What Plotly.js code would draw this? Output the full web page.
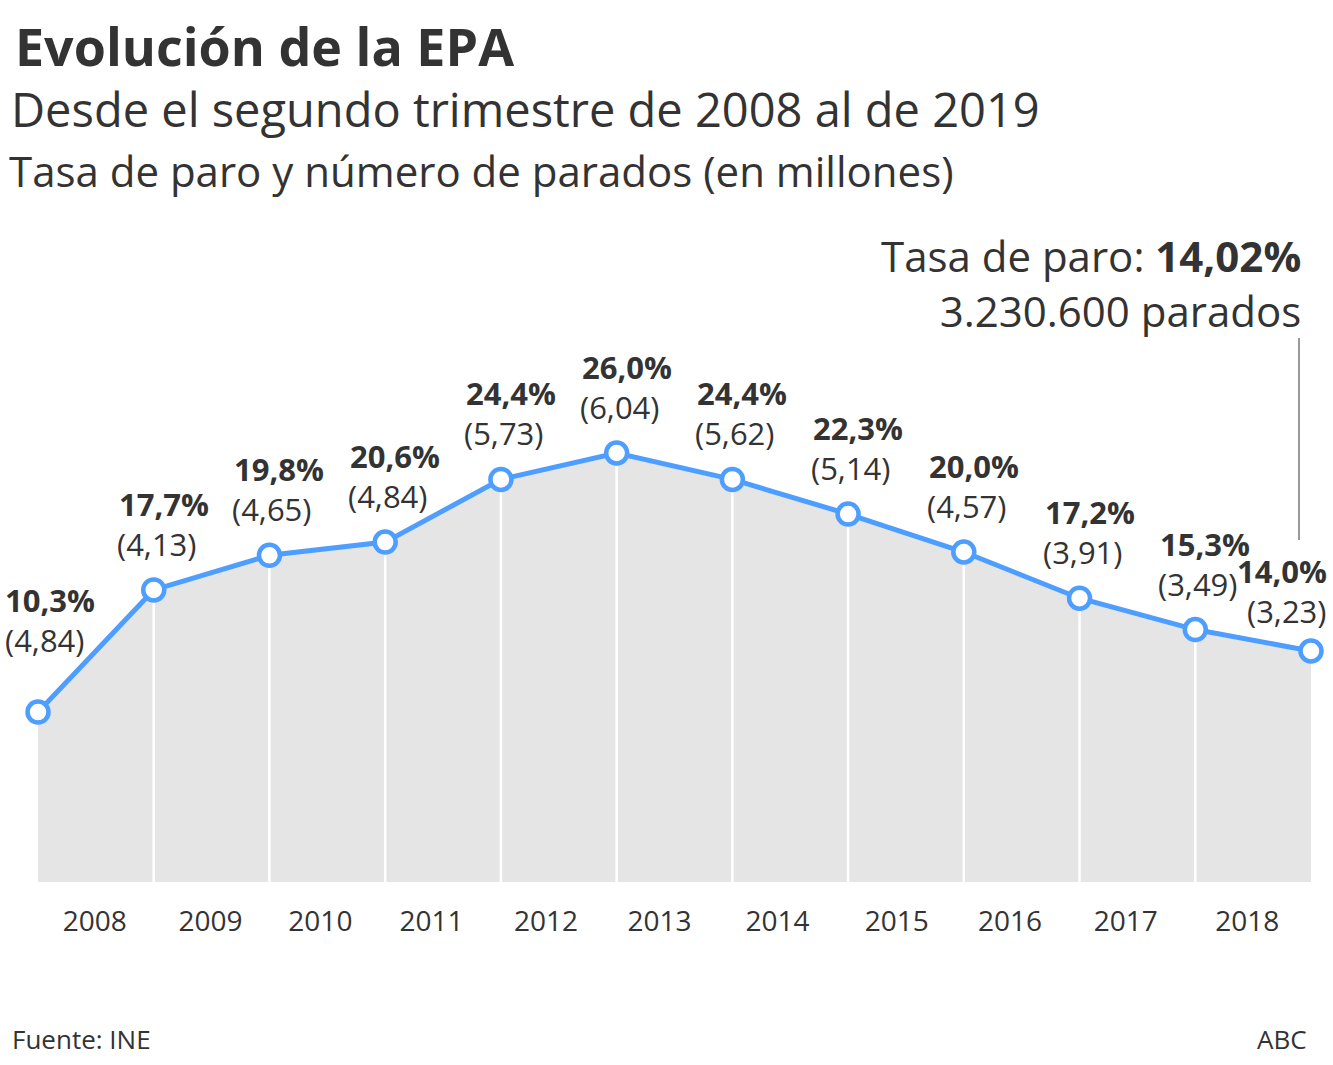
<!DOCTYPE html>
<html>
<head>
<meta charset="utf-8">
<script src="https://cdn.plot.ly/plotly-3.0.1.min.js"></script>
<style>
html,body{margin:0;padding:0;background:#fff;}
#chart{width:1333px;height:1065px;}
</style>
</head>
<body>
<div id="chart"></div>
<script>
// ---- data ----
const periods = ["2T 2008","2T 2009","2T 2010","2T 2011","2T 2012","2T 2013","2T 2014","2T 2015","2T 2016","2T 2017","2T 2018","2T 2019"];
const tasaParo = [10.3, 17.7, 19.8, 20.6, 24.4, 26.0, 24.4, 22.3, 20.0, 17.2, 15.3, 14.0];
const parados = [4.84, 4.13, 4.65, 4.84, 5.73, 6.04, 5.62, 5.14, 4.57, 3.91, 3.49, 3.23];
const yearLabels = ["2008","2009","2010","2011","2012","2013","2014","2015","2016","2017","2018"];

// ---- layout constants ----
const W = 1333, H = 1065;
const ML = 38, MR = 22, MT = 330, MB = 183;
const plotW = W - ML - MR, plotH = H - MT - MB;
const font = "Open Sans, sans-serif";
const ink = "#333333";
const blue = "#4d9eff";
const px2x = p => (p - ML) / plotW;
const px2y = p => (H - MB - p) / plotH;

const idx = periods.map((_, i) => i);
const tickPos = [0.49, 1.49, 2.44, 3.40, 4.39, 5.37, 6.39, 7.42, 8.40, 9.40, 10.45];
const fmt = (v, d) => v.toFixed(d).replace(".", ",");

// vertical white separators
const sepX = [], sepY = [];
idx.forEach(i => {
  if (i === 0 || i === idx.length - 1) return;
  sepX.push(i, i, null);
  sepY.push(0, tasaParo[i], null);
});

const traces = [
  {x: idx, y: tasaParo, type: "scatter", mode: "lines", fill: "tozeroy",
   fillcolor: "#e5e5e5", line: {width: 0}, hoverinfo: "skip", showlegend: false},
  {x: sepX, y: sepY, type: "scatter", mode: "lines",
   line: {color: "#ffffff", width: 2.5}, hoverinfo: "skip", showlegend: false},
  {x: idx, y: tasaParo, type: "scatter", mode: "lines+markers", cliponaxis: false,
   line: {color: blue, width: 5},
   marker: {size: 21, color: "#ffffff", line: {color: blue, width: 4.5}},
   showlegend: false}
];

const annotations = [];
const txt = (text, x, y, size, opts) => Object.assign({
  text: text, xref: "paper", yref: "paper", x: px2x(x), y: px2y(y),
  showarrow: false, font: {family: font, size: size, color: ink},
  xanchor: "left", yanchor: "middle"
}, opts || {});

annotations.push(txt("<b>Evolución de la EPA</b>", 13, 46, 52));
annotations.push(txt("Desde el segundo trimestre de 2008 al de 2019", 9, 109, 47));
annotations.push(txt("Tasa de paro y número de parados (en millones)", 7, 171, 42));
annotations.push(txt("Tasa de paro: <b>14,02%</b><br>3.230.600 parados", 1303, 283, 42,
  {xanchor: "right", align: "right"}));
annotations.push(txt("Fuente: INE", 10, 1039, 26));
annotations.push(txt("ABC", 1309, 1039, 26, {xanchor: "right"}));

// data labels
idx.forEach(i => {
  let xa = "left", xs = -37, xs2 = -39, ys1 = 86, ys2 = 46;
  if (i === 0) { xs = -35; xs2 = -35; ys1 = 112; ys2 = 72; }
  if (i === idx.length - 1) { xa = "right"; xs = 18; xs2 = 17; ys1 = 80; ys2 = 40; }
  annotations.push({
    text: "<b>" + fmt(tasaParo[i], 1) + "%</b>", x: i, y: tasaParo[i], xref: "x", yref: "y",
    showarrow: false, xanchor: xa, yanchor: "middle", xshift: xs, yshift: ys1,
    font: {family: font, size: 31, color: ink}
  });
  annotations.push({
    text: "(" + fmt(parados[i], 2) + ")", x: i, y: tasaParo[i], xref: "x", yref: "y",
    showarrow: false, xanchor: xa, yanchor: "middle", xshift: xs2, yshift: ys2,
    font: {family: font, size: 31, color: ink}
  });
});

const yTop = (H - MB - MT) / 16.5;

const layout = {
  width: W, height: H,
  margin: {l: ML, r: MR, t: MT, b: MB, pad: 0},
  paper_bgcolor: "#ffffff", plot_bgcolor: "#ffffff",
  font: {family: font, color: ink},
  xaxis: {range: [0, idx.length - 1], showgrid: false, zeroline: false, showline: false,
          tickmode: "array", tickvals: tickPos, ticktext: yearLabels,
          ticks: "outside", ticklen: 14, tickcolor: "rgba(0,0,0,0)",
          tickfont: {family: font, size: 28, color: ink}, fixedrange: true},
  yaxis: {range: [0, yTop], visible: false, fixedrange: true},
  shapes: [{type: "line", xref: "paper", yref: "paper",
            x0: px2x(1299), x1: px2x(1299), y0: px2y(338), y1: px2y(540),
            line: {color: "#999999", width: 2}}],
  annotations: annotations,
  showlegend: false
};

Plotly.newPlot("chart", traces, layout, {displayModeBar: false, staticPlot: true});
</script>
</body>
</html>
